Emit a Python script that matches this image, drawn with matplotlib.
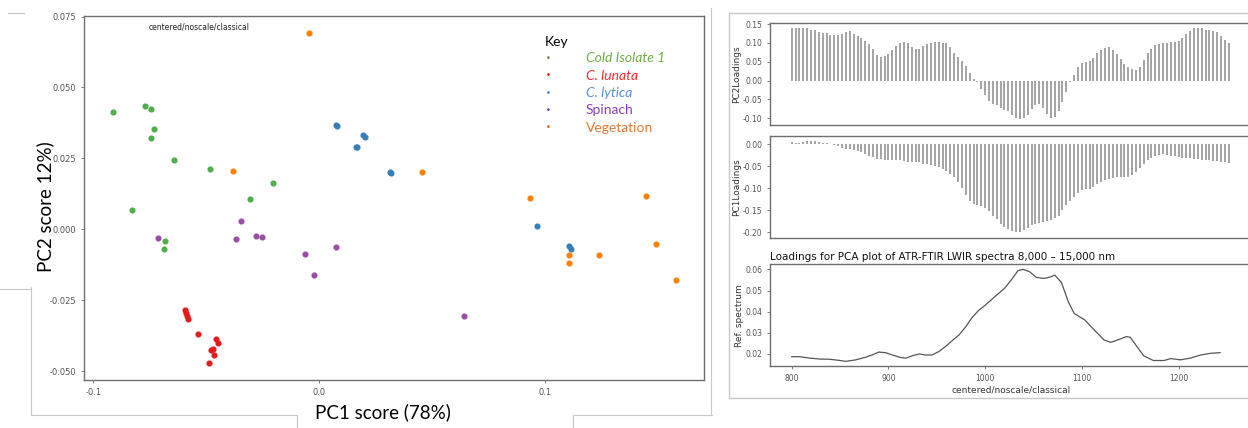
import matplotlib.pyplot as plt
import numpy as np

# --- scores (PC1, PC2) per group ---
cold_x = [-0.0914, -0.0771, -0.0746, -0.0731, -0.0743, -0.0644, -0.0484, -0.0830, -0.0305, -0.0205, -0.0684, -0.0686]
cold_y = [0.0414, 0.0434, 0.0423, 0.0353, 0.0322, 0.0243, 0.0213, 0.0067, 0.0106, 0.0162, -0.0040, -0.0071]
lunata_x = [-0.0593, -0.0588, -0.0587, -0.0581, -0.0535, -0.0489, -0.0479, -0.0472, -0.0467, -0.0456, -0.0447]
lunata_y = [-0.0285, -0.0296, -0.0306, -0.0315, -0.0369, -0.0472, -0.0426, -0.0420, -0.0442, -0.0388, -0.0400]
lytica_x = [0.0075, 0.0080, 0.0161, 0.0165, 0.0192, 0.0201, 0.0315, 0.0319, 0.0963, 0.1103, 0.1112]
lytica_y = [0.0367, 0.0365, 0.0292, 0.0289, 0.0333, 0.0327, 0.0203, 0.0200, 0.0013, -0.0060, -0.0068]
spinach_x = [-0.0346, -0.0712, -0.0370, -0.0280, -0.0252, -0.0062, -0.0022, 0.0072, 0.0639]
spinach_y = [0.0028, -0.0031, -0.0034, -0.0023, -0.0028, -0.0087, -0.0162, -0.0062, -0.0306]
veg_x = [-0.0044, -0.0382, 0.0454, 0.0931, 0.1444, 0.1106, 0.1106, 0.1239, 0.1488, 0.1577]
veg_y = [0.0693, 0.0207, 0.0201, 0.0109, 0.0117, -0.0092, -0.0118, -0.0090, -0.0051, -0.0179]

groups = ["Cold Isolate 1", "C. lunata", "C. lytica", "Spinach", "Vegetation"]
point_cols = ["#4DAF4A", "#E41A1C", "#377EB8", "#984EA3", "#FF7F00"]
bullet_cols = ["#548235", "#FF0000", "#2E75B6", "#7030A0", "#C55A11"]
text_cols = ["#70AD47", "#FF2B2B", "#5B8FCF", "#8E3FC0", "#E07B39"]

# --- loadings, one bar every 4 cm-1 from 800 ---
wn = list(range(800, 1256, 4))
pc2 = [0.139, 0.139, 0.140, 0.140, 0.139, 0.135, 0.133, 0.128, 0.127, 0.125,
       0.121, 0.121, 0.121, 0.123, 0.130, 0.131, 0.123, 0.119, 0.113, 0.106,
       0.098, 0.084, 0.068, 0.063, 0.064, 0.071, 0.081, 0.092, 0.099, 0.101,
       0.099, 0.088, 0.083, 0.084, 0.091, 0.097, 0.100, 0.101, 0.101, 0.100,
       0.099, 0.090, 0.074, 0.063, 0.052, 0.038, 0.021, 0.005, -0.004, -0.022,
       -0.039, -0.053, -0.062, -0.066, -0.072, -0.077, -0.081, -0.091, -0.099, -0.101,
       -0.100, -0.091, -0.075, -0.064, -0.062, -0.073, -0.088, -0.099, -0.097, -0.081,
       -0.057, -0.031, -0.003, 0.016, 0.035, 0.047, 0.049, 0.052, 0.061, 0.072,
       0.081, 0.086, 0.088, 0.081, 0.070, 0.057, 0.044, 0.035, 0.030, 0.028,
       0.037, 0.055, 0.073, 0.085, 0.094, 0.097, 0.099, 0.100, 0.101, 0.102,
       0.106, 0.112, 0.123, 0.132, 0.139, 0.139, 0.139, 0.134, 0.133, 0.131,
       0.128, 0.119, 0.108, 0.099]
pc1 = [0.004, 0.003, 0.003, 0.004, 0.006, 0.007, 0.006, 0.004, 0.003, 0.002,
       0.001, -0.002, -0.005, -0.008, -0.010, -0.012, -0.014, -0.016, -0.019, -0.022,
       -0.026, -0.030, -0.033, -0.034, -0.035, -0.035, -0.035, -0.036, -0.037, -0.038,
       -0.040, -0.041, -0.040, -0.041, -0.044, -0.046, -0.047, -0.049, -0.052, -0.056,
       -0.060, -0.067, -0.075, -0.086, -0.100, -0.116, -0.128, -0.135, -0.139, -0.141,
       -0.145, -0.152, -0.162, -0.170, -0.180, -0.188, -0.193, -0.196, -0.198, -0.199,
       -0.194, -0.189, -0.184, -0.181, -0.179, -0.176, -0.174, -0.172, -0.168, -0.162,
       -0.150, -0.138, -0.128, -0.120, -0.110, -0.105, -0.102, -0.101, -0.097, -0.091,
       -0.086, -0.082, -0.078, -0.076, -0.075, -0.074, -0.074, -0.074, -0.070, -0.064,
       -0.054, -0.045, -0.036, -0.031, -0.026, -0.024, -0.023, -0.025, -0.027, -0.028,
       -0.030, -0.031, -0.031, -0.032, -0.033, -0.034, -0.035, -0.036, -0.037, -0.038,
       -0.039, -0.040, -0.041, -0.042]

# --- reference spectrum ---
ref_x = [800, 808, 819, 829, 839, 850, 856, 866, 876, 883, 890, 897, 904, 913, 918,
         925, 932, 938, 945, 952, 959, 966, 973, 980, 986, 993, 1000, 1010, 1020, 1027,
         1034, 1039, 1046, 1053, 1061, 1068, 1072, 1079, 1086, 1092, 1103, 1113, 1123,
         1130, 1137, 1146, 1150, 1157, 1164, 1174, 1185, 1192, 1202, 1212, 1223, 1233, 1243]
ref_y = [0.0187, 0.0187, 0.0180, 0.0176, 0.0175, 0.0169, 0.0165, 0.0172, 0.0184, 0.0195,
         0.0209, 0.0206, 0.0195, 0.0183, 0.0180, 0.0192, 0.0200, 0.0195, 0.0195, 0.0211,
         0.0235, 0.0263, 0.0290, 0.0329, 0.0369, 0.0405, 0.0430, 0.0471, 0.0510, 0.0550,
         0.0594, 0.0600, 0.0589, 0.0562, 0.0557, 0.0565, 0.0573, 0.0537, 0.0447, 0.0392,
         0.0361, 0.0313, 0.0266, 0.0255, 0.0266, 0.0282, 0.0279, 0.0235, 0.0191, 0.0169,
         0.0169, 0.0178, 0.0172, 0.0180, 0.0195, 0.0203, 0.0206]

W, H = 1248, 428
fig = plt.figure(figsize=(W / 100, H / 100), dpi=100)


def box(l, t, r, b):
    return [l / W, 1 - b / H, (r - l) / W, (b - t) / H]


def style(ax, frame='#6e6e6e'):
    for s in ax.spines.values():
        s.set_color(frame)
        s.set_linewidth(1.0)
    ax.tick_params(colors='#666666', labelcolor='#555555', labelsize=5.5, length=2, width=0.6)


# background decoration (slide frames)
bg = fig.add_axes([0, 0, 1, 1], zorder=-5)
bg.set_xlim(0, W)
bg.set_ylim(H, 0)
bg.axis('off')
gcol = '#c8c8c8'
bg.plot([8, 24], [13, 13], color=gcol, lw=0.8)
bg.plot([0, 30], [289, 289], color=gcol, lw=0.8)
bg.plot([31, 31, 297, 297], [287, 415, 415, 428], color=gcol, lw=0.8)
bg.plot([573, 573, 712], [428, 415, 415], color=gcol, lw=0.8)
bg.plot([711, 711], [8, 415], color=gcol, lw=0.8)
bg.plot([1252, 729, 729, 1252], [13, 13, 398, 398], color=gcol, lw=1.0)

# --- score plot ---
ax = fig.add_axes(box(84, 16, 704, 380))
style(ax)
xs = [cold_x, lunata_x, lytica_x, spinach_x, veg_x]
ys = [cold_y, lunata_y, lytica_y, spinach_y, veg_y]
for gx, gy, c in zip(xs, ys, point_cols):
    ax.plot(gx, gy, 'o', ms=3.4, color=c, mec=c)
ax.set_xlim(-0.1041, 0.1702)
ax.set_ylim(-0.0531, 0.0752)
ax.set_xticks([-0.1, 0.0, 0.1])
ax.set_xticklabels(['-0.1', '0.0', '0.1'])
ax.set_yticks([-0.05, -0.025, 0, 0.025, 0.05, 0.075])
ax.set_yticklabels(['-0.050', '-0.025', '0.000', '0.025', '0.050', '0.075'])
ax.tick_params(labelsize=6)
ax.text(0.105, 0.982, 'centered/noscale/classical', transform=ax.transAxes,
        fontsize=5.5, va='top', ha='left', color='#222222')

# key (overlay legend)
fig.text(545 / W, 1 - 42 / H, 'Key', fontsize=10, family='Lato', va='center', ha='left', color='black')
for i, (g, bc, tc) in enumerate(zip(groups, bullet_cols, text_cols)):
    yy = 1 - (58.5 + 17.3 * i) / H
    fig.text(548 / W, yy, '\u2022', fontsize=6, color=bc, va='center', ha='center', family='DejaVu Sans')
    fig.text(586 / W, yy, g, fontsize=10, color=tc, va='center', ha='left', family='Lato',
             style='italic' if i < 3 else 'normal')

fig.text(45 / W, 1 - 207 / H, 'PC2 score 12%)', rotation=90, fontsize=13.5, family='Lato',
         va='center', ha='center', color='black')
fig.text(383 / W, 1 - 412 / H, 'PC1 score (78%)', fontsize=13.5, family='Lato',
         va='center', ha='center', color='black')

# --- loadings panels ---
bar_col = '#8a8a8a'
ax2 = fig.add_axes(box(770, 22.7, 1252, 124.7))
style(ax2)
ax2.vlines(wn, 0, pc2, color=bar_col, lw=1.1)
ax2.set_xlim(777.5, 1276)
ax2.set_ylim(-0.117, 0.1535)
ax2.set_xticks([])
ax2.set_yticks([-0.1, -0.05, 0, 0.05, 0.1, 0.15])
ax2.set_yticklabels(['-0.10', '-0.05', '0.00', '0.05', '0.10', '0.15'])
ax2.set_ylabel('PC2Loadings', fontsize=6.5, color='#333333', labelpad=1)

ax1 = fig.add_axes(box(770, 135.7, 1252, 237.7))
style(ax1)
ax1.vlines(wn, 0, pc1, color=bar_col, lw=1.1)
ax1.set_xlim(777.5, 1276)
ax1.set_ylim(-0.212, 0.019)
ax1.set_xticks([])
ax1.set_yticks([-0.2, -0.15, -0.1, -0.05, 0])
ax1.set_yticklabels(['-0.20', '-0.15', '-0.10', '-0.05', '0.00'])
ax1.set_ylabel('PC1Loadings', fontsize=6.5, color='#333333', labelpad=1)

ax3 = fig.add_axes(box(770, 264.3, 1252, 366))
style(ax3)
ax3.plot(ref_x, ref_y, color='#555555', lw=0.9)
ax3.set_xlim(777.5, 1276)
ax3.set_ylim(0.0143, 0.0624)
ax3.set_xticks([800, 900, 1000, 1100, 1200])
ax3.set_yticks([0.02, 0.03, 0.04, 0.05, 0.06])
ax3.set_yticklabels(['0.02', '0.03', '0.04', '0.05', '0.06'])
ax3.set_ylabel('Ref. spectrum', fontsize=6.5, color='#333333', labelpad=1)
ax3.set_xlabel('centered/noscale/classical', fontsize=6.5, color='#333333', labelpad=2)
ax3.set_title('Loadings for PCA plot of ATR-FTIR LWIR spectra 8,000 \u2013 15,000 nm',
              fontsize=7.5, loc='left', x=0.0, pad=3, color='#111111')

fig.savefig('out.png', dpi=100)
